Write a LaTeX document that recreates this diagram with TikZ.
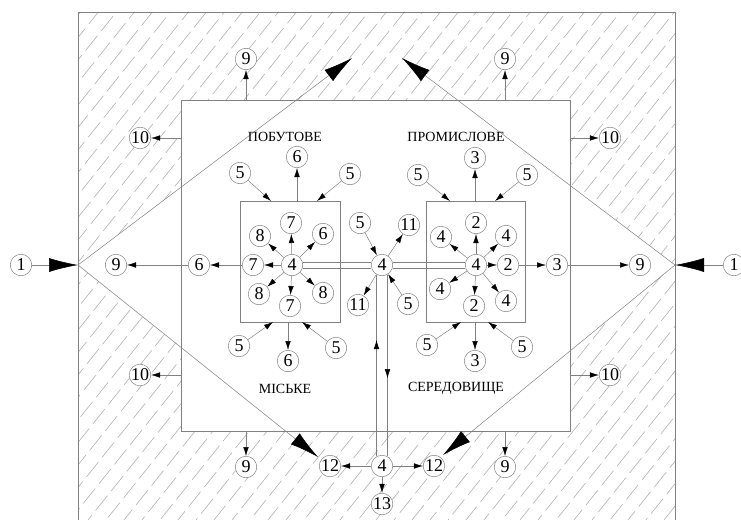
\documentclass[tikz,border=0pt]{standalone}
\usepackage{fontspec}
\setmainfont{Liberation Serif}
\usetikzlibrary{arrows.meta,decorations.markings}
\definecolor{linegray}{HTML}{808080}
\definecolor{hatchgray}{HTML}{A6A6A6}
\begin{document}
\begin{tikzpicture}[x=1pt,y=-1pt,
  num/.style={circle,draw=linegray,line width=0.5pt,minimum size=21.5pt,inner sep=0pt,fill=white,
    font=\fontsize{18}{18}\selectfont},
  conn/.style={draw=linegray,line width=0.5pt},
  arr/.style={conn,-{Latex[length=9pt,width=5.5pt,color=black]}},
  bigarr/.style={conn,-{Latex[length=29pt,width=14pt,color=black]}},
  framebox/.style={draw=linegray,line width=0.6pt},
  hatchline/.style={draw=hatchgray,line width=0.5pt},
  lbl/.style={font=\fontsize{14}{14}\selectfont,inner sep=0pt},
  midup/.style={postaction={decorate,decoration={markings,
    mark=at position #1 with {\arrow{Latex[length=9pt,width=5.5pt,color=black]}}}}},
]
\useasboundingbox (0,0) rectangle (741,519);
\clip (0,0) rectangle (741,519);

% hatched band
\begin{scope}[even odd rule]
\clip (78,12) rectangle (675,530)
  (181,100) rectangle (570,431)
  (78,265) -- (181,187) -- (181,347) -- cycle
  (675,265) -- (570,185) -- (570,351) -- cycle;
\foreach \i in {0,...,60}{
  \pgfmathsetmacro\ph{mod(\i*9,25)}
  \draw[hatchline,dash pattern=on 19pt off 6pt,dash phase=\ph pt]
    ({-370+\i*18},530) -- ({-370+\i*18+440},-20);
}
\end{scope}

% outer frame
\draw[framebox] (78,530) -- (78,12) -- (675,12) -- (675,530);
% inner field and boxes
\node[framebox,minimum width=389pt,minimum height=331pt,inner sep=0pt] (inner) at (375.5,265.5) {};
\node[framebox,minimum width=100pt,minimum height=121pt,inner sep=0pt] (bL) at (290,261.5) {};
\node[framebox,minimum width=99pt,minimum height=121pt,inner sep=0pt] (bR) at (475.5,261.5) {};

% diamond
\coordinate (L) at (78,265);
\coordinate (R) at (675,265);
\coordinate (ULt) at (352,58);
\coordinate (URt) at (402,58);
\coordinate (LLt) at (318,457);
\coordinate (LRt) at (443,455);
\draw[bigarr] (L) -- (ULt);
\draw[bigarr] (L) -- (LLt);
\draw[bigarr] (R) -- (URt);
\draw[bigarr] (R) -- (LRt);

% labels
\node[lbl] (tP) at (285,137) {ПОБУТОВЕ};
\node[lbl] (tR) at (456,137) {ПРОМИСЛОВЕ};
\node[lbl] (tM) at (285,389) {МІСЬКЕ};
\node[lbl] (tS) at (456,388) {СЕРЕДОВИЩЕ};

% outer nodes
\node[num] (t9a) at (246,59) {9};
\node[num] (t9b) at (505,59) {9};
\node[num] (s10a) at (140,138) {10};
\node[num] (s10b) at (610,138) {10};
\node[num] (s10c) at (140,375) {10};
\node[num] (s10d) at (610,375) {10};
\node[num] (b9a) at (246,467) {9};
\node[num] (b9b) at (505,467) {9};
\node[num] (onel) at (21,265) {1};
\node[num] (oner) at (734,265) {1};

\draw[arr] (t9a |- inner.north) -- (t9a);
\draw[arr] (t9b |- inner.north) -- (t9b);
\draw[arr] (s10a -| inner.west) -- (s10a);
\draw[arr] (s10c -| inner.west) -- (s10c);
\draw[arr] (s10b -| inner.east) -- (s10b);
\draw[arr] (s10d -| inner.east) -- (s10d);
\draw[arr] (b9a |- inner.south) -- (b9a);
\draw[arr] (b9b |- inner.south) -- (b9b);
\draw[bigarr] (onel) -- (L);
\draw[bigarr] (oner) -- (R);

% main row
\node[num] (n9l) at (116,265) {9};
\node[num] (n6l) at (199,265) {6};
\node[num] (n7l) at (253,265) {7};
\node[num] (c4l) at (292,265) {4};
\node[num] (c4m) at (382,265) {4};
\node[num] (c4r) at (476,265) {4};
\node[num] (n2r) at (508,265) {2};
\node[num] (n3r) at (557,265) {3};
\node[num] (n9r) at (640,265) {9};
\draw[arr] (c4l) -- (n7l);
\draw[arr] (n7l) -- (n6l);
\draw[arr] (n6l) -- (n9l);
\draw[arr] (c4r) -- (n2r);
\draw[arr] (n2r) -- (n3r);
\draw[arr] (n3r) -- (n9r);

% double links
\draw[conn] (c4l.17) -- (c4m.163);
\draw[conn] (c4l.-17) -- (c4m.-163);
\draw[conn] (c4m.17) -- (c4r.163);
\draw[conn] (c4m.-17) -- (c4r.-163);

% left cluster
\node[num] (lc7t) at (291,223) {7};
\node[num] (lc8a) at (260,236) {8};
\node[num] (lc6) at (323,234) {6};
\node[num] (lc8b) at (259,294) {8};
\node[num] (lc7b) at (290,306) {7};
\node[num] (lc8c) at (323,293) {8};
\foreach \t in {lc7t,lc8a,lc6,lc8b,lc7b,lc8c}{\draw[arr] (c4l) -- (\t);}

% left box top / bottom
\node[num] (l5a) at (240,173) {5};
\node[num] (l6t) at (297,157) {6};
\node[num] (l5b) at (350,174) {5};
\node[num] (l5c) at (239,346) {5};
\node[num] (l6b) at (288,361) {6};
\node[num] (l5d) at (336,348) {5};
\coordinate (bLt1) at (271,201);
\coordinate (bLt2) at (297,201);
\coordinate (bLt3) at (317,201);
\coordinate (bLb1) at (273,322);
\coordinate (bLb2) at (288,322);
\coordinate (bLb3) at (302,322);
\draw[arr] (l5a) -- (bLt1);
\draw[arr] (bLt2) -- (l6t);
\draw[arr] (l5b) -- (bLt3);
\draw[arr] (l5c) -- (bLb1);
\draw[arr] (bLb2) -- (l6b);
\draw[arr] (l5d) -- (bLb3);

% middle cluster
\node[num] (m5a) at (360,223) {5};
\node[num] (m11a) at (409,225) {11};
\node[num] (m11b) at (358,305) {11};
\node[num] (m5b) at (408,304) {5};
\draw[arr] (m5a) -- (c4m);
\draw[arr] (c4m) -- (m11a);
\draw[arr] (c4m) -- (m11b);
\draw[arr] (m5b) -- (c4m);

% right cluster
\node[num] (r2t) at (476,223) {2};
\node[num] (r4a) at (441,237) {4};
\node[num] (r4b) at (506,236) {4};
\node[num] (r4c) at (440,289) {4};
\node[num] (r2b) at (474,306) {2};
\node[num] (r4d) at (506,301) {4};
\foreach \t in {r2t,r4a,r4b,r4c,r2b,r4d}{\draw[arr] (c4r) -- (\t);}

% right box top / bottom
\node[num] (r5a) at (418,175) {5};
\node[num] (r3t) at (475,158) {3};
\node[num] (r5b) at (527,175) {5};
\node[num] (r5c) at (427,345) {5};
\node[num] (r3b) at (475,361) {3};
\node[num] (r5d) at (522,347) {5};
\coordinate (bRt1) at (450,201);
\coordinate (bRt2) at (475,201);
\coordinate (bRt3) at (495,201);
\coordinate (bRb1) at (461,322);
\coordinate (bRb2) at (475,322);
\coordinate (bRb3) at (488,322);
\draw[arr] (r5a) -- (bRt1);
\draw[arr] (bRt2) -- (r3t);
\draw[arr] (r5b) -- (bRt3);
\draw[arr] (r5c) -- (bRb1);
\draw[arr] (bRb2) -- (r3b);
\draw[arr] (r5d) -- (bRb3);

% bottom
\node[num] (c4b) at (382,466) {4};
\node[num] (n12a) at (330,466) {12};
\node[num] (n12b) at (434,466) {12};
\node[num] (n13) at (382,504) {13};
\draw[conn,midup=0.64] (c4b.120) -- (c4m.-120);
\draw[conn,midup=0.57] (c4m.-60) -- (c4b.60);
\draw[arr] (c4b) -- (n12a);
\draw[arr] (c4b) -- (n12b);
\draw[arr] (c4b) -- (n13);
\end{tikzpicture}
\end{document}
